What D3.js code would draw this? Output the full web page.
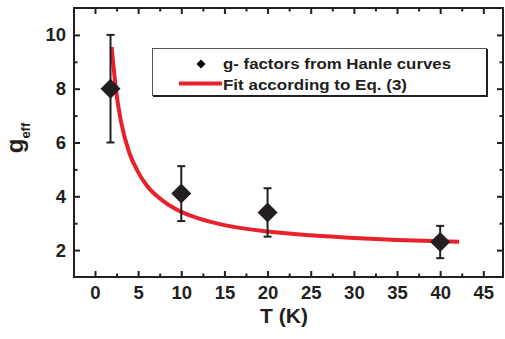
<!DOCTYPE html>
<html><head><meta charset="utf-8">
<script src="https://cdn.jsdelivr.net/npm/d3@7"></script>
<style>body{margin:0;background:#fff}svg{display:block}text{font-family:"Liberation Sans",Arial,sans-serif;font-weight:bold;fill:#231f20}</style>
</head><body><svg id="c" width="505" height="339"></svg>
<script>
// data
const temps = [1.8, 10, 20, 40];
const gFactors = [8.0, 4.1, 3.4, 2.3];
const gErrors = [2.0, 1.02, 0.9, 0.6];
const fitT = [1.93, 2.5, 3, 4, 5, 6, 8, 10, 12, 15, 20, 25, 30, 35, 40, 42.2];
const fitG = [9.55, 7.8, 6.8, 5.6, 4.9, 4.4, 3.8, 3.42, 3.18, 2.93, 2.69, 2.55, 2.45, 2.38, 2.33, 2.31];
const xTicks = [0, 5, 10, 15, 20, 25, 30, 35, 40, 45];
const xMinor = [2.5, 7.5, 12.5, 17.5, 22.5, 27.5, 32.5, 37.5, 42.5];
const yTicks = [2, 4, 6, 8, 10];
const yMinor = [3, 5, 7, 9];
const legendLabels = ["g- factors from Hanle curves", "Fit according to Eq. (3)"];

const svg = d3.select("#c");
const L = 74, T = 8, R = 503, B = 277;
const ink = "#231f20", red = "#e8212a";
const x = d3.scaleLinear().domain([-2.43, 47.28]).range([L, R]);
const y = d3.scaleLinear().domain([1, 11]).range([B, T]);

// axes
function ax(gen, tx, ty, vals, len, labels) {
  const g = svg.append("g").attr("transform", `translate(${tx},${ty})`)
    .call(gen.tickValues(vals).tickSizeInner(-len).tickSizeOuter(0).tickPadding(len + 6)
      .tickFormat(labels ? d3.format("d") : ""));
  g.select(".domain").remove();
  g.selectAll(".tick line").attr("stroke", ink).attr("stroke-width", 2);
  g.selectAll(".tick text").style("font-size", "18.5px").attr("fill", ink);
  return g;
}
const gb = ax(d3.axisBottom(x), 0, B, xTicks, 6, true);
gb.selectAll(".tick text").attr("dy", "0.85em").attr("y", 6.5);
ax(d3.axisBottom(x), 0, B, xMinor, 3.5, false);
ax(d3.axisTop(x), 0, T, xTicks, 6, false);
ax(d3.axisTop(x), 0, T, xMinor, 3.5, false);
const gl = ax(d3.axisLeft(y), L, 0, yTicks, 6, true);
gl.selectAll(".tick text").attr("x", -8);
ax(d3.axisLeft(y), L, 0, yMinor, 3.5, false);
ax(d3.axisRight(y), R, 0, yTicks, 6, false);
ax(d3.axisRight(y), R, 0, yMinor, 3.5, false);

// frame
svg.append("rect").attr("x", L).attr("y", T).attr("width", R - L).attr("height", B - T)
  .attr("fill", "none").attr("stroke", ink).attr("stroke-width", 2);

// fit curve
const line = d3.line().x((d, i) => x(fitT[i])).y(d => y(d)).curve(d3.curveMonotoneX);
svg.append("path").attr("d", line(fitG)).attr("fill", "none").attr("stroke", red)
  .attr("stroke-width", 4).attr("stroke-linecap", "butt");

// error bars
const eb = svg.append("g").attr("stroke", ink).attr("stroke-width", 2);
temps.forEach((t, i) => {
  const cx = x(t), y1 = y(gFactors[i] + gErrors[i]), y0 = y(gFactors[i] - gErrors[i]);
  eb.append("line").attr("x1", cx).attr("x2", cx).attr("y1", y1).attr("y2", y0);
  eb.append("line").attr("x1", cx - 4).attr("x2", cx + 4).attr("y1", y1).attr("y2", y1);
  eb.append("line").attr("x1", cx - 4).attr("x2", cx + 4).attr("y1", y0).attr("y2", y0);
});
// diamonds
const diamond = s => `M0,${-s}L${s},0L0,${s}L${-s},0Z`;
svg.append("g").selectAll("path").data(gFactors).join("path")
  .attr("transform", (d, i) => `translate(${x(temps[i])},${y(d)})`)
  .attr("d", diamond(10)).attr("fill", ink);

// legend
const lg = svg.append("g");
lg.append("rect").attr("x", 152.5).attr("y", 48.5).attr("width", 334).attr("height", 47)
  .attr("fill", "#fff").attr("stroke", "#555").attr("stroke-width", 1);
lg.append("line").attr("x1", 487).attr("x2", 487).attr("y1", 49).attr("y2", 96.5).attr("stroke", ink).attr("stroke-width", 2);
lg.append("line").attr("x1", 153).attr("x2", 488).attr("y1", 96).attr("y2", 96).attr("stroke", ink).attr("stroke-width", 2);
lg.append("path").attr("transform", "translate(201,64)").attr("d", diamond(4.5)).attr("fill", "#000");
lg.append("line").attr("x1", 179).attr("x2", 222).attr("y1", 83.5).attr("y2", 83.5).attr("stroke", red).attr("stroke-width", 4);
lg.append("text").attr("x", 223).attr("y", 69).style("font-size", "14.5px")
  .attr("textLength", 228).attr("lengthAdjust", "spacingAndGlyphs").text(legendLabels[0]);
lg.append("text").attr("x", 223).attr("y", 89.5).style("font-size", "14.5px")
  .attr("textLength", 184).attr("lengthAdjust", "spacingAndGlyphs").text(legendLabels[1]);

// axis titles
svg.append("text").attr("x", 284).attr("y", 323).attr("text-anchor", "middle").style("font-size", "21px").text("T (K)");
const yt = svg.append("text").attr("transform", "translate(23,138) rotate(-90)").attr("text-anchor", "middle");
yt.append("tspan").style("font-size", "24px").text("g");
yt.append("tspan").style("font-size", "13px").attr("dy", 7).text("eff");
</script></body></html>
